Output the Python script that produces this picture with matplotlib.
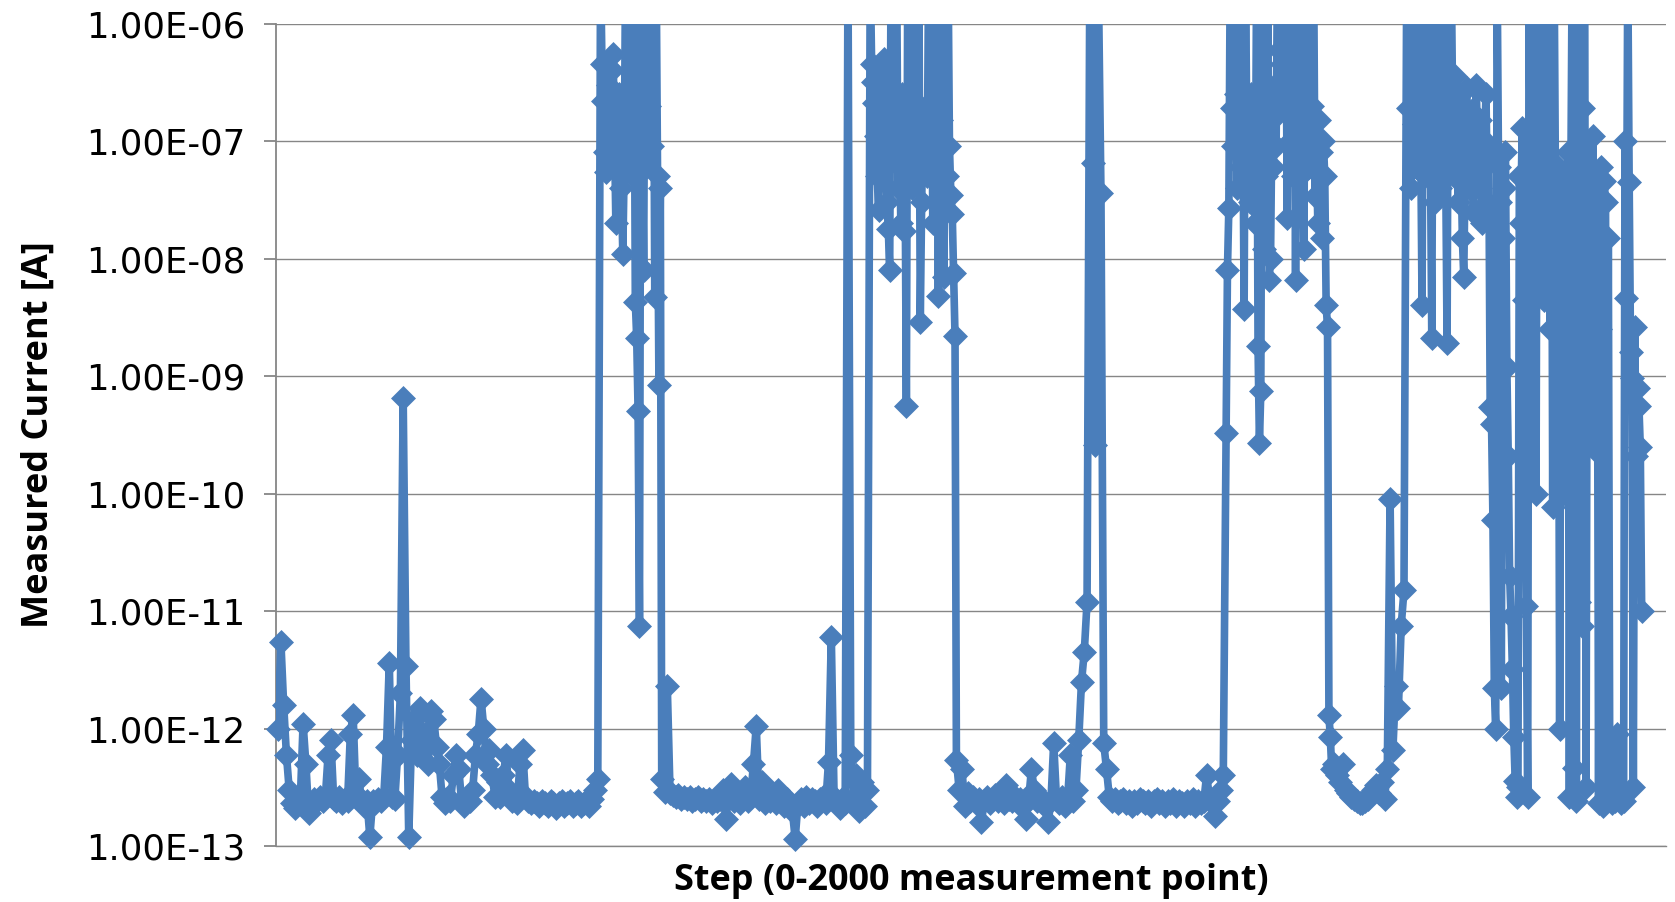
import numpy as np
import matplotlib

matplotlib.use("Agg")
import matplotlib.pyplot as plt
from matplotlib.path import Path
from matplotlib.ticker import FixedLocator, FuncFormatter, NullLocator

# measured current [A] (3e-6 = off scale, above 1E-06)
# low states sampled every 4th step, high / switching states every 2nd step
low_1 = [
    1.0e-12, 5.5e-12, 1.6e-12, 6e-13, 3e-13, 2.3e-13, 2.1e-13, 2.4e-13, 2.5e-13, 1.1e-12,
    5e-13, 1.9e-13, 2.2e-13, 2.5e-13, 2.4e-13, 2.6e-13, 2.4e-13, 2.6e-13, 6e-13, 8e-13,
    2.5e-13, 2.4e-13, 2.6e-13, 2.3e-13, 2.5e-13, 2.4e-13, 9e-13, 1.3e-12, 2.6e-13, 3.7e-13,
    2.5e-13, 2.2e-13, 2.4e-13, 1.2e-13, 2.4e-13, 2.3e-13, 2.5e-13, 2.4e-13, 2.6e-13, 7e-13,
    3.6e-12, 2.6e-13, 2.5e-13, 6e-13, 2e-12, 6.5e-10, 3.4e-12, 1.2e-13, 8e-13, 1.2e-12,
    6e-13, 1.5e-12, 7e-13, 9e-13, 5e-13, 1.4e-12, 1.2e-12, 7e-13, 5e-13, 2.6e-13,
    2.3e-13, 2.6e-13, 2.4e-13, 4e-13, 6e-13, 4.5e-13, 2.4e-13, 2.2e-13, 2.5e-13, 2.4e-13,
    3e-13, 6e-13, 9e-13, 1.8e-12, 1e-12, 5e-13, 6.5e-13, 4e-13, 2.6e-13, 3.5e-13,
    2.6e-13, 4e-13, 6e-13, 3e-13, 2.4e-13, 2.5e-13, 2.3e-13, 5e-13, 6.5e-13, 2.6e-13,
    2.4e-13, 2.3e-13, 2.4e-13, 2.3e-13, 2.2e-13, 2.4e-13, 2.3e-13, 2.2e-13, 2.4e-13, 2.3e-13,
    2.1e-13, 2.3e-13, 2.4e-13, 2.2e-13, 2.3e-13, 2.4e-13, 2.2e-13, 2.3e-13, 2.4e-13, 2.2e-13,
    2.3e-13, 2.4e-13, 2.2e-13, 2.5e-13, 3e-13, 3.7e-13,
]
high_1 = [
    3e-6, 4.5e-7, 2.2e-7, 8e-8, 5.5e-8, 3e-7, 1.5e-7, 6e-8, 4e-7, 5.5e-7,
    1.2e-7, 2e-8, 7e-8, 2.5e-7, 1e-7, 4e-8, 1.1e-8, 6e-8, 3e-6, 1.5e-7,
    3e-6, 8e-8, 3e-7, 5e-8, 3e-6, 4.3e-9, 2.1e-9, 5e-10, 7.5e-12, 3e-6,
    1.2e-7, 8e-9, 3e-6, 6e-8, 3e-6, 2e-7, 3e-6, 9e-8, 3e-6, 4.7e-9,
    3e-6, 5e-8, 8.4e-10, 4e-8,
]
low_2 = [
    3.7e-13, 2.9e-13, 2.3e-12, 2.8e-13, 2.7e-13, 2.6e-13, 2.7e-13, 2.5e-13, 2.6e-13, 2.5e-13,
    2.6e-13, 2.4e-13, 2.5e-13, 2.6e-13, 2.4e-13, 2.5e-13, 2.4e-13, 2.5e-13, 2.3e-13, 2.5e-13,
    2.4e-13, 2.5e-13, 3e-13, 1.7e-13, 2.5e-13, 3.4e-13, 2.4e-13, 2.6e-13, 2.3e-13, 2.5e-13,
    3.2e-13, 2.4e-13, 2.6e-13, 5e-13, 1.05e-12, 2.5e-13, 3.5e-13, 2.3e-13, 2.6e-13, 2.4e-13,
    2.6e-13, 2.3e-13, 3e-13, 2.4e-13, 2.2e-13, 2.5e-13, 2.3e-13, 2e-13, 1.15e-13, 2.3e-13,
    2.5e-13, 2.2e-13, 2.6e-13, 2.3e-13, 2.5e-13, 2.4e-13, 2.2e-13, 2.5e-13, 2.6e-13, 2.3e-13,
    5.2e-13, 6e-12, 2.6e-13, 2.3e-13, 2.1e-13, 2.5e-13, 2.3e-13, 3e-6, 6e-13, 2.6e-13,
    4e-13, 2e-13, 3.5e-13, 2.2e-13, 3e-13,
]
high_2 = [
    3e-6, 4.5e-7, 3.2e-7, 2.1e-7, 1.1e-7, 5e-8, 2.6e-8, 1.5e-7, 4e-7, 9e-8,
    5e-7, 6e-8, 3e-8, 1.8e-8, 8e-9, 3e-6, 1.2e-7, 3e-6, 7e-8, 3e-6,
    4e-8, 1.5e-7, 2e-8, 2.5e-7, 1.7e-8, 8e-8, 5.6e-10, 3e-6, 9e-8, 3e-6,
    4e-8, 3e-6, 1.5e-7, 3e-6, 6e-8, 3e-6, 2.9e-9, 3e-8, 1.2e-7, 7e-8,
    2e-7, 5e-8, 3e-6, 1e-7, 3e-6, 2e-8, 3e-6, 6e-8, 3e-6, 4.8e-9,
    3e-6, 1.5e-7, 3e-6, 7e-9, 3e-6, 5e-8, 3e-6, 9e-8, 3.5e-8, 2.4e-8,
    7.5e-9, 2.2e-9,
]
low_3 = [
    5.4e-13, 3e-13, 4.5e-13, 2.2e-13, 2.8e-13, 2.4e-13, 2.6e-13, 2.3e-13, 2.5e-13, 1.6e-13,
    2.4e-13, 2.6e-13, 2.3e-13, 2.5e-13, 2.7e-13, 2.4e-13, 2.6e-13, 2.3e-13, 3.3e-13, 2.5e-13,
    2.4e-13, 2.6e-13, 2.3e-13, 2.5e-13, 2.2e-13, 1.7e-13, 2.5e-13, 4.5e-13, 3e-13, 2.4e-13,
    2.6e-13, 2.3e-13, 2.2e-13, 1.6e-13, 2.4e-13, 7.5e-13, 2.5e-13, 2.3e-13, 2.6e-13, 2.2e-13,
    2.5e-13, 6e-13, 2.4e-13, 3e-13, 8e-13, 2.5e-12, 4.5e-12, 1.2e-11, 3e-6, 6.5e-8,
    2.6e-10, 3e-6, 3.6e-8, 7.5e-13, 4.5e-13, 2.6e-13, 2.4e-13, 2.5e-13, 2.3e-13, 2.4e-13,
    2.5e-13, 2.3e-13, 2.4e-13, 2.2e-13, 2.4e-13, 2.3e-13, 2.5e-13, 2.4e-13, 2.3e-13, 2.4e-13,
    2.2e-13, 2.4e-13, 2.5e-13, 2.3e-13, 2.4e-13, 2.2e-13, 2.4e-13, 2.3e-13, 2.5e-13, 2.2e-13,
    2.4e-13, 2.3e-13, 2.2e-13, 2.4e-13, 2.3e-13, 2.5e-13, 2.2e-13, 2.4e-13, 2.3e-13, 2.4e-13,
    4e-13, 2.6e-13, 2.3e-13, 1.8e-13, 2.4e-13, 3e-13, 4e-13,
]
high_3 = [
    3.3e-10, 8e-9, 2.7e-8, 3e-6, 1.9e-7, 9e-8, 3e-6, 2.5e-7, 4e-8, 3e-6,
    1.2e-7, 6e-8, 2e-7, 3.7e-9, 3e-6, 8e-8, 1.5e-7, 3e-8, 2.5e-7, 6e-8,
    1e-7, 2e-8, 3e-6, 1.8e-9, 2.7e-10, 7.5e-10, 3e-6, 1.2e-8, 3e-6, 5e-8,
    3e-6, 6.6e-9, 1e-8, 1.5e-7, 6e-8, 3e-7, 9e-8, 3e-6, 6e-7, 3e-6,
    4.5e-7, 3e-6, 1.8e-7, 3e-6, 2.2e-8, 3e-6, 1e-7, 3e-6, 5e-8, 3e-6,
    6.6e-9, 3e-6, 1.5e-7, 5e-8, 2.5e-7, 8e-8, 1.2e-8, 3e-6, 1.3e-7, 3e-6,
    6e-8, 3e-6, 2e-7, 3e-6, 3.4e-8, 1e-7, 2e-8, 1.5e-7, 8e-8, 1.5e-8,
    1e-7, 5e-8, 4e-9, 2.6e-9, 1.3e-12, 8.5e-13,
]
low_4 = [
    4.5e-13, 5e-13, 4e-13, 3.5e-13, 5e-13, 3e-13, 2.8e-13, 2.6e-13, 2.5e-13, 2.4e-13,
    2.3e-13, 2.3e-13, 2.4e-13, 2.5e-13, 2.8e-13, 3e-13, 3.3e-13, 2.8e-13, 3.5e-13, 2.5e-13,
    4.5e-13, 9e-11, 6.5e-13, 2.3e-12, 1.5e-12, 7.5e-12, 1.5e-11,
]
high_4 = [
    3e-6, 1.9e-7, 3e-6, 4e-8, 3e-6, 1.4e-7, 3e-6, 6e-8, 2.5e-7, 3e-6,
    1e-7, 4e-9, 3e-6, 5e-8, 3e-6, 2e-7, 3e-6, 8e-8, 2.1e-9, 3e-6,
    3e-8, 3e-6, 1e-7, 3e-6, 4e-8, 3e-6, 1.5e-7, 3e-6, 6e-8, 1.9e-9,
    3e-6, 8e-8, 3e-6, 2e-7, 5e-8, 3.6e-7, 1.2e-7, 3e-8, 2.5e-7, 7e-8,
    1.5e-8, 7e-9, 6e-8, 2.8e-7, 1e-7, 4e-8, 1.8e-7, 6e-8, 2.5e-8, 1.2e-7,
    3e-7, 8e-8, 4e-8, 1.5e-7, 2e-8, 6e-8, 1e-7, 2.5e-7, 3e-8, 8e-8,
]
switching = [
    5.5e-10, 3.9e-10, 6e-11, 2.2e-12, 1e-12, 3e-6, 6e-8, 3e-8, 2.2e-12, 1.5e-8,
    4e-8, 8e-8, 1.2e-9, 2.1e-10, 2e-11, 9e-12, 3.2e-12, 8.5e-13, 3.6e-13, 2.6e-13,
    3.2e-13, 5e-8, 2e-8, 1.3e-7, 4.4e-9, 2.3e-10, 1.1e-11, 2.6e-13, 3e-6, 3e-8,
    1e-8, 6e-8, 3e-6, 1e-10, 3e-6, 2.7e-8, 3e-6, 1e-8, 3e-6, 4.4e-9,
    3e-6, 2e-8, 3e-6, 2.5e-9, 3e-6, 7.7e-11, 3e-6, 4e-8, 1.5e-8, 6e-8,
    1e-12, 3e-8, 3e-10, 5e-8, 1e-10, 2e-8, 8e-8, 2.6e-13, 4e-8, 3e-6,
    4.6e-13, 3e-6, 2.4e-13, 3e-6, 1.2e-11, 3e-6, 7.5e-12, 1.9e-7, 3e-6, 3.2e-13,
    1e-7, 5e-8, 8.7e-10, 2e-8, 1.1e-7, 2.4e-10, 5e-9, 3e-8, 2.3e-13, 2.5e-9,
    6e-8, 2.2e-13, 4.6e-8, 3e-8, 8.7e-13, 1.5e-8, 6.5e-13, 3.2e-13, 2.3e-13, 2.8e-13,
    2.4e-13, 9e-13, 2.5e-13, 3.2e-13, 2.3e-13, 3e-13, 2.4e-13, 1e-7, 4.6e-9, 3e-6,
    4.5e-8, 1.6e-9, 9.7e-10, 3.2e-13, 2.6e-9, 2.1e-10, 7.9e-10, 5.6e-10, 2.5e-10, 1e-11,
]

SEGMENTS = [low_1, high_1, low_2, high_2, low_3, high_3, low_4, high_4, switching]
SEGMENT_STRIDE = [4, 2, 4, 2, 4, 2, 4, 2, 2]
FIRST_STEP = 3
Y_TICKS = [1e-13, 1e-12, 1e-11, 1e-10, 1e-9, 1e-8, 1e-7, 1e-6]

BLUE = "#4A7EBB"
GRID = "#868686"


def build_series():
    steps, values = [], []
    start = FIRST_STEP
    for seg, stride in zip(SEGMENTS, SEGMENT_STRIDE):
        steps.append(start + stride * np.arange(len(seg)))
        values.append(np.asarray(seg, dtype=float))
        start += stride * len(seg)
    return np.concatenate(steps), np.concatenate(values)


def main() -> int:
    step, current = build_series()

    fig = plt.figure(figsize=(16.75, 9.02), dpi=100)
    ax = fig.add_axes([276 / 1675, 1 - 846 / 902, 1390 / 1675, 822.5 / 902])

    diamond = Path(
        [(0, 1), (1, 0), (0, -1), (-1, 0), (0, 1)],
        [Path.MOVETO, Path.LINETO, Path.LINETO, Path.LINETO, Path.CLOSEPOLY],
    )
    ax.plot(step, current, color=BLUE, linewidth=5.5, zorder=3)
    in_range = current <= 1e-6
    ax.plot(
        step[in_range], current[in_range], linestyle="none", marker=diamond,
        markersize=18, markerfacecolor=BLUE, markeredgewidth=0, zorder=4, clip_on=False,
    )

    ax.set_yscale("log")
    ax.set_ylim(1e-13, 1e-6)
    ax.set_xlim(0, 2000)
    ax.yaxis.set_major_locator(FixedLocator(Y_TICKS))
    ax.yaxis.set_minor_locator(NullLocator())
    ax.yaxis.set_major_formatter(FuncFormatter(lambda v, pos: "{0:.2E}".format(v)))
    ax.xaxis.set_major_locator(NullLocator())
    ax.xaxis.set_minor_locator(NullLocator())

    ax.set_axisbelow(True)
    ax.grid(axis="y", color=GRID, linewidth=1.0)
    for side in ("top", "right"):
        ax.spines[side].set_visible(False)
    ax.spines["left"].set_color(GRID)
    ax.spines["left"].set_linewidth(1.3)
    ax.spines["bottom"].set_color(GRID)
    ax.spines["bottom"].set_linewidth(1.0)
    ax.tick_params(axis="y", direction="out", length=9, width=1.3, color=GRID,
                   pad=13, labelsize=25.5, labelcolor="black")
    for label in ax.get_yticklabels():
        label.set_fontfamily("DejaVu Sans")

    ax.set_ylabel("Measured Current [A]", fontsize=26, fontweight="bold", fontfamily="Open Sans")
    ax.yaxis.set_label_coords(-0.158, 0.5)
    ax.set_xlabel("Step (0-2000 measurement point)", fontsize=25.9, fontweight="bold", fontfamily="Open Sans")
    ax.xaxis.set_label_coords(0.5, -0.021)

    fig.savefig("out.png", dpi=100)
    plt.close(fig)
    return 0


if __name__ == "__main__":
    raise SystemExit(main())
